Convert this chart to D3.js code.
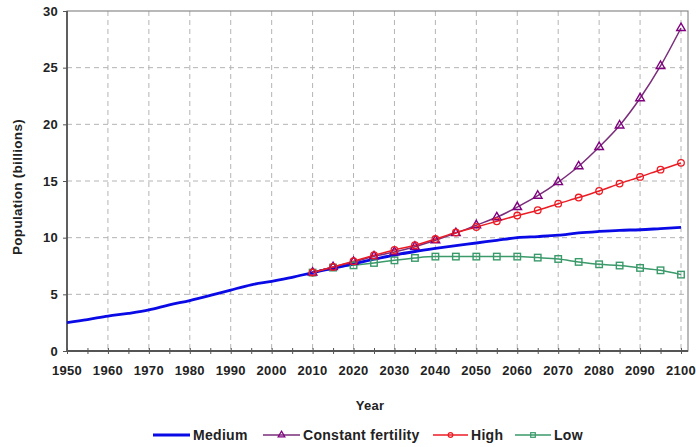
<!DOCTYPE html>
<html><head><meta charset="utf-8">
<script src="https://cdn.jsdelivr.net/npm/d3@7"></script>
<style>
html,body{margin:0;padding:0;background:#fff;}
text{font-family:"Liberation Sans",Arial,sans-serif;font-weight:bold;fill:#222;}
</style></head>
<body>
<svg id="chart" width="696" height="447"></svg>
<script>
// ---- data ----
const medYears = [1950,1955,1960,1965,1970,1975,1980,1985,1990,1995,2000,2005,2010,2015,2020,2025,2030,2035,2040,2045,2050,2055,2060,2065,2070,2075,2080,2085,2090,2095,2100];
const medium = [2.5,2.77,3.08,3.32,3.62,4.07,4.45,4.9,5.38,5.84,6.15,6.5,6.92,7.3,7.7,8.1,8.47,8.78,9.05,9.3,9.53,9.77,10.0,10.1,10.22,10.42,10.55,10.65,10.7,10.8,10.9];
const projYears = [2010,2015,2020,2025,2030,2035,2040,2045,2050,2055,2060,2065,2070,2075,2080,2085,2090,2095,2100];
const constant = [6.92,7.41,7.86,8.36,8.74,9.2,9.77,10.4,11.1,11.8,12.7,13.7,14.9,16.3,18.0,19.9,22.3,25.15,28.5];
const high = [6.92,7.41,7.92,8.45,8.91,9.33,9.88,10.45,10.94,11.45,11.95,12.42,13.0,13.54,14.12,14.77,15.36,16.0,16.6];
const low = [6.92,7.36,7.56,7.77,8.0,8.21,8.33,8.33,8.33,8.33,8.33,8.24,8.12,7.86,7.65,7.54,7.33,7.12,6.74];
const xTicks = [1950,1960,1970,1980,1990,2000,2010,2020,2030,2040,2050,2060,2070,2080,2090,2100];
const yTicks = [0,5,10,15,20,25,30];
const seriesNames = ["Medium","Constant fertility","High","Low"];

// ---- layout ----
const svg = d3.select("#chart");
const L = 67, R = 681, FR = 688, T = 11, B = 351;
const x = d3.scaleLinear().domain([1950,2100]).range([L,R]);
const y = d3.scaleLinear().domain([0,30]).range([B,T]);

// grid
const grid = svg.append("g");
grid.selectAll("line.v").data(xTicks.slice(1)).enter().append("line")
  .attr("x1",d=>x(d)).attr("x2",d=>x(d)).attr("y1",T).attr("y2",B)
  .attr("stroke","#b4b4b4").attr("stroke-width",1).attr("stroke-dasharray","5,4");
grid.selectAll("line.h").data(yTicks.slice(1,-1)).enter().append("line")
  .attr("x1",L).attr("x2",FR).attr("y1",d=>y(d)).attr("y2",d=>y(d))
  .attr("stroke","#b4b4b4").attr("stroke-width",1).attr("stroke-dasharray","5,4");

// frame (top/right)
svg.append("rect").attr("x",L).attr("y",T).attr("width",FR-L).attr("height",B-T)
  .attr("fill","none").attr("stroke","#8a8a8a").attr("stroke-width",1.2);

// axes
const xAxis = d3.axisBottom(x).tickValues(d3.range(1950,2101,5)).tickSize(3).tickFormat("");
const gx = svg.append("g").attr("transform",`translate(0,${B})`).call(xAxis);
gx.selectAll("line").attr("stroke","#555").attr("y1",-3).attr("y2",3);
gx.select(".domain").attr("stroke","#555").attr("stroke-width",1.8).attr("d",`M${L},0H${FR}`);
svg.append("g").selectAll("text").data(xTicks).enter().append("text")
  .attr("x",d=>x(d)).attr("y",375).attr("text-anchor","middle")
  .style("font-size","13px").style("letter-spacing","0.3px").text(d=>d);

const yAxis = d3.axisLeft(y).tickValues(yTicks).tickSize(4).tickFormat("");
const gy = svg.append("g").attr("transform",`translate(${L},0)`).call(yAxis);
gy.selectAll("line").attr("stroke","#555");
gy.select(".domain").attr("stroke","#555").attr("stroke-width",1.8).attr("d",`M0,${B}V${T}`);
svg.append("g").selectAll("text").data(yTicks).enter().append("text")
  .attr("x",58).attr("y",d=>y(d)+4.5).attr("text-anchor","end")
  .style("font-size","13px").style("letter-spacing","0.3px").text(d=>d);

// axis titles
svg.append("text").attr("x",370).attr("y",410).attr("text-anchor","middle")
  .style("font-size","13px").style("letter-spacing","0.3px").text("Year");
svg.append("text").attr("transform","translate(22,187) rotate(-90)").attr("text-anchor","middle")
  .style("font-size","13.5px").style("letter-spacing","0.3px").text("Population (billions)");

// lines
const line = d3.line().x(d=>x(d[0])).y(d=>y(d[1])).curve(d3.curveMonotoneX);
const colors = {Medium:"#0a0ae6", "Constant fertility":"#7a2d7a", High:"#ec1c24", Low:"#3a9a6a"};
const mk = (yrs,vals)=>yrs.map((yr,i)=>[yr,vals[i]]);
const medData = mk(medYears,medium), conData = mk(projYears,constant), hiData = mk(projYears,high), loData = mk(projYears,low);

const plot = svg.append("g");
plot.append("path").datum(loData).attr("d",line).attr("fill","none").attr("stroke",colors.Low).attr("stroke-width",1.5);
plot.append("path").datum(medData).attr("d",line).attr("fill","none").attr("stroke",colors.Medium).attr("stroke-width",2.8);
plot.append("path").datum(conData).attr("d",line).attr("fill","none").attr("stroke",colors["Constant fertility"]).attr("stroke-width",1.5);
plot.append("path").datum(hiData).attr("d",line).attr("fill","none").attr("stroke",colors.High).attr("stroke-width",1.5);

const tri = d3.symbol().type(d3.symbolTriangle).size(32);
function squares(g,data,c,s){
  g.selectAll(null).data(data).enter().append("rect")
    .attr("x",d=>x(d[0])-s/2).attr("y",d=>y(d[1])-s/2).attr("width",s).attr("height",s)
    .attr("fill","none").attr("stroke",c).attr("stroke-width",1.4);
}
function circles(g,data,c,r){
  g.selectAll(null).data(data).enter().append("circle")
    .attr("cx",d=>x(d[0])).attr("cy",d=>y(d[1])).attr("r",r)
    .attr("fill","none").attr("stroke",c).attr("stroke-width",1.3);
}
function triangles(g,data,c,sym){
  g.selectAll(null).data(data).enter().append("path")
    .attr("d",sym).attr("transform",d=>`translate(${x(d[0])},${y(d[1])})`)
    .attr("fill","none").attr("stroke",c).attr("stroke-width",1.4);
}
squares(plot,loData,colors.Low,6.5);
triangles(plot,conData,"#800080",tri);
circles(plot,hiData,colors.High,3.3);

// legend
const leg = svg.append("g");
const legItems = [
  {name:seriesNames[0], x1:153, x2:190, tx:193},
  {name:seriesNames[1], x1:263, x2:300, tx:303},
  {name:seriesNames[2], x1:433, x2:468, tx:471},
  {name:seriesNames[3], x1:515, x2:551, tx:554}
];
const LY = 435;
legItems.forEach(it=>{
  leg.append("line").attr("x1",it.x1).attr("x2",it.x2).attr("y1",LY).attr("y2",LY)
    .attr("stroke",colors[it.name]).attr("stroke-width",it.name==="Medium"?2.8:1.5);
  leg.append("text").attr("x",it.tx).attr("y",LY+5).style("font-size","14px")
    .style("letter-spacing","0.3px").text(it.name);
});
const mx = d=> (d.x1+d.x2)/2;
leg.append("path").attr("d",d3.symbol().type(d3.symbolTriangle).size(20)).attr("transform",`translate(${mx(legItems[1])},${LY})`)
  .attr("fill","none").attr("stroke","#800080").attr("stroke-width",1.2);
leg.append("circle").attr("cx",mx(legItems[2])).attr("cy",LY).attr("r",2.3).attr("fill","none").attr("stroke",colors.High).attr("stroke-width",1.2);
leg.append("rect").attr("x",mx(legItems[3])-2.3).attr("y",LY-2.3).attr("width",4.6).attr("height",4.6).attr("fill","none").attr("stroke",colors.Low).attr("stroke-width",1.2);
</script>
</body></html>
